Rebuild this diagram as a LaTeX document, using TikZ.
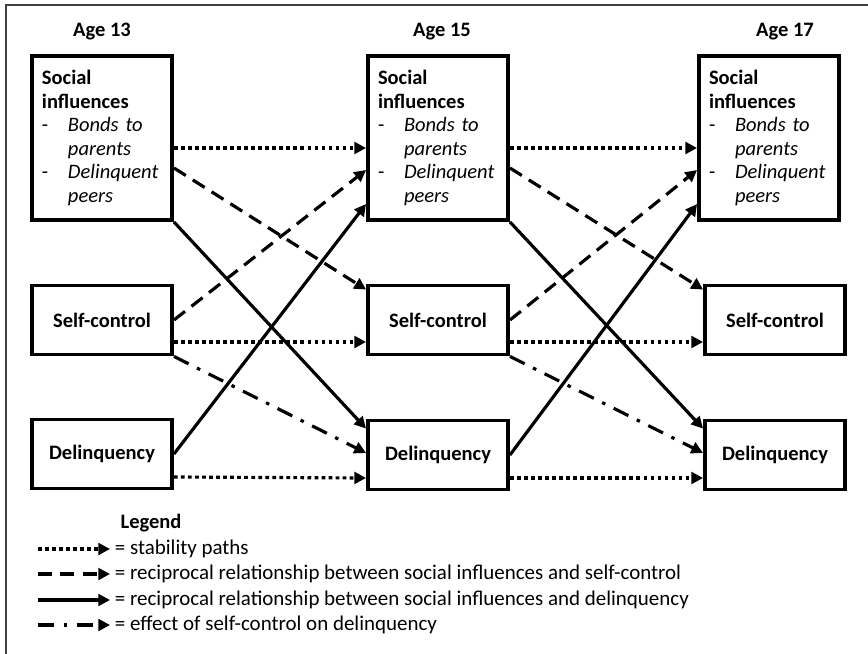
\documentclass[tikz,border=0pt]{standalone}
\usepackage{fontspec}
\setmainfont{Carlito}
\usetikzlibrary{arrows.meta, calc}

\newcommand{\listpair}[2]{\makebox[0.78cm][l]{\mdseries -}{\mdseries\itshape #1}\\\hspace*{0.78cm}{\mdseries\itshape #2}}

\begin{document}
\begin{tikzpicture}[x=0.03cm, y=-0.03cm,
        box/.style={draw, line width=3.3pt, minimum width=4.2cm, inner sep=0pt, font=\fontsize{17.5}{20}\selectfont\bfseries},
        socbox/.style={box, minimum height=4.92cm, text width=3.6cm, align=left},
        smallbox/.style={box, minimum height=2.07cm},
        age/.style={font=\fontsize{17.5}{20}\selectfont\bfseries},
        link/.style={line width=2.7pt, -{Triangle[length=10pt, width=10pt]}},
        stab/.style={link, dash pattern=on 3.2pt off 2.8pt},
        recsc/.style={link, dash pattern=on 12pt off 7pt},
        recdel/.style={link},
        effect/.style={link, dash pattern=on 14pt off 8pt on 3pt off 8pt},
        legtext/.style={anchor=west, inner sep=4pt, font=\fontsize{17.9}{20}\selectfont}]
        \useasboundingbox (0,0) rectangle (868,654);
        \draw[line width=1.5pt, black!75] (6,654) -- (6,5) -- (868,5);

        \node[age] (a13) at (102,32) {Age 13};
        \node[age] (a15) at (442,32) {Age 15};
        \node[age] (a17) at (785,32) {Age 17};

        \node[socbox] (s13) at (102,138) {Social\\influences\\\listpair{Bonds to}{parents}\\\listpair{Delinquent}{peers}};
        \node[socbox] (s15) at (438,138) {Social\\influences\\\listpair{Bonds to}{parents}\\\listpair{Delinquent}{peers}};
        \node[socbox] (s17) at (769,138) {Social\\influences\\\listpair{Bonds to}{parents}\\\listpair{Delinquent}{peers}};
        \node[smallbox] (c13) at (102,320) {Self-control};
        \node[smallbox] (c15) at (438,320) {Self-control};
        \node[smallbox] (c17) at (775,320) {Self-control};
        \node[smallbox] (d13) at (102,454) {Delinquency};
        \node[smallbox] (d15) at (438,455) {Delinquency};
        \node[smallbox] (d17) at (775,455) {Delinquency};

        % age 13 -> age 15
        \draw[stab] ($(s13.east)+(0,10)$) to ($(s15.west)+(0,10)$);
        \draw[stab] ($(c13.east)+(0,22)$) to ($(c15.west)+(0,22)$);
        \draw[stab] ($(d13.east)+(0,23)$) to ($(d15.west)+(0,23)$);
        \draw[recsc] ($(s13.east)+(0,30)$) to ($(c15.north west)+(0,6)$);
        \draw[recsc] (c13.east) to ($(s15.west)+(0,32)$);
        \draw[recdel] (s13.south east) to ($(d15.north west)+(0,10)$);
        \draw[recdel] (d13.east) to ($(s15.west)+(0,66)$);
        \draw[effect] (c13.south east) to ($(d15.west)+(0,-2)$);

        % age 15 -> age 17
        \draw[stab] ($(s15.east)+(0,10)$) to ($(s17.west)+(0,10)$);
        \draw[stab] ($(c15.east)+(0,22)$) to ($(c17.west)+(0,22)$);
        \draw[stab] ($(d15.east)+(0,23)$) to ($(d17.west)+(0,23)$);
        \draw[recsc] ($(s15.east)+(0,30)$) to ($(c17.north west)+(0,6)$);
        \draw[recsc] (c15.east) to ($(s17.west)+(0,32)$);
        \draw[recdel] (s15.south east) to ($(d17.north west)+(0,10)$);
        \draw[recdel] (d15.east) to ($(s17.west)+(0,66)$);
        \draw[effect] (c15.south east) to ($(d17.west)+(0,-2)$);

        % legend
        \node[age] (leg) at (151,523) {Legend};
        \node[legtext] (t1) at (110,549) {= stability paths};
        \node[legtext] (t2) at (110,574) {= reciprocal relationship between social influences and self-control};
        \node[legtext] (t3) at (110,600) {= reciprocal relationship between social influences and delinquency};
        \node[legtext] (t4) at (110,625) {= effect of self-control on delinquency};
        \coordinate (k1) at (38,549);
        \coordinate (k2) at (38,574);
        \coordinate (k3) at (38,600);
        \coordinate (k4) at (38,625);
        \draw[stab] (k1) to (t1.west);
        \draw[recsc] (k2) to (t2.west);
        \draw[recdel] (k3) to (t3.west);
        \draw[effect] (k4) to (t4.west);
\end{tikzpicture}
\end{document}
